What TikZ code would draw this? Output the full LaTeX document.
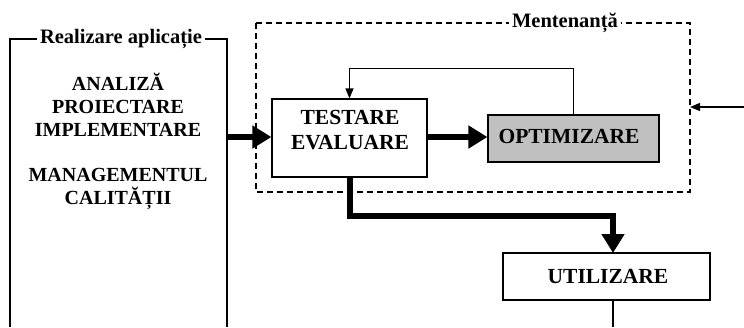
\documentclass[tikz,border=0pt]{standalone}
\usepackage{fontspec}
\setmainfont{Liberation Serif}
\usetikzlibrary{arrows.meta}
\tikzset{
  lbl/.style={font=\bfseries\fontsize{20}{23}\selectfont, align=center, inner sep=0pt},
  lblb/.style={font=\bfseries\fontsize{21.5}{25}\selectfont, align=center, inner sep=0pt},
  ttl/.style={font=\bfseries\fontsize{20.5}{22}\selectfont, fill=white, inner xsep=3pt, inner ysep=1pt},
  thin/.style={line width=1.2pt},
  thick arr/.style={line width=6pt, -{Triangle[length=19pt,width=22pt]}},
  thin arr/.style={line width=1.2pt, -{Triangle[length=10pt,width=8pt]}},
}
\begin{document}
\begin{tikzpicture}[x=1pt,y=-1pt]
\useasboundingbox (0,0) rectangle (744,327);
% left box (open at bottom)
\draw[thin] (10,327) -- (10,39) -- (227,39) -- (227,327);
\coordinate (lbR) at (227,137);
\node[ttl] (lbt) at (121,39) {Realizare aplicație};
\node[lbl] (lb1) at (118,105) {ANALIZĂ\\PROIECTARE\\IMPLEMENTARE};
\node[lbl] (lb2) at (118,189) {MANAGEMENTUL\\CALITĂȚII};
% dashed maintenance box
\draw[thin, dash pattern=on 6pt off 4pt] (256,23) rectangle (690,192);
\node[ttl] (mt) at (565,23) {Mentenanță};
\coordinate (mR) at (690,107);
\coordinate (rin) at (744,107);
% boxes
\node[draw, thin, minimum width=155pt, minimum height=78pt, inner sep=0pt] (te) at (349.5,138) {};
\node[lblb] (tet) at (350,130.5) {TESTARE\\EVALUARE};
\node[draw, thin, fill={rgb,255:red,192;green,192;blue,192}, minimum width=171pt, minimum height=47pt, inner sep=0pt] (op) at (573.5,138.5) {};
\node[lblb] (opt) at (569,136) {OPTIMIZARE};
\node[draw, thin, minimum width=207pt, minimum height=47pt, inner sep=0pt] (ut) at (606.5,276.5) {};
\node[lblb] (utt) at (608,276) {UTILIZARE};
\coordinate (utin) at (613,253);
\coordinate (utout) at (613,300);
\coordinate (utend) at (613,327);
\coordinate (bend) at (349.5,216);
% connectors
\draw[thick arr] (lbR) -- (te.west |- lbR);
\draw[thick arr] (te.east |- lbR) -- (op.west |- lbR);
\draw[thin arr] (op.north) -- ++(0,-46) -| (te.north);
\draw[thin arr] (rin) -- (mR);
\draw[thick arr] (te.south) -- (bend) -| (utin);
\draw[thin] (utout) -- (utend);
\end{tikzpicture}
\end{document}
